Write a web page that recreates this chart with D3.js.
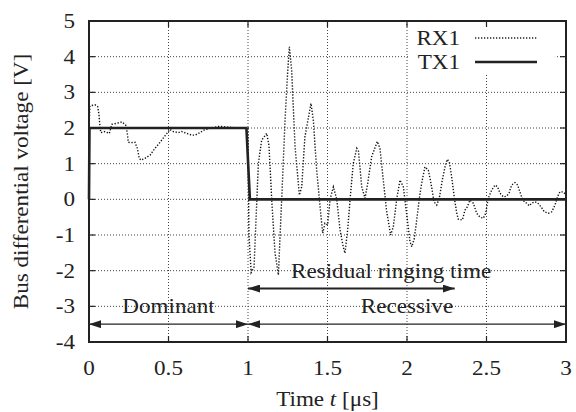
<!DOCTYPE html>
<html>
<head>
<meta charset="utf-8">
<script src="https://cdn.jsdelivr.net/npm/d3@7"></script>
<style>
  body { margin: 0; background: #fff; }
  text { font-family: "Liberation Serif", "Times New Roman", Times, serif; fill: #222; }
</style>
</head>
<body>
<div id="chart"></div>
<script>
// tick values
var timeTicks = [0, 0.5, 1, 1.5, 2, 2.5, 3];
var voltTicks = [-4, -3, -2, -1, 0, 1, 2, 3, 4, 5];

// TX1 (transmitted) waveform
var txTime = [0, 0.003, 0.99, 1.012, 3];
var txVolt = [0, 2, 2, 0, 0];

// RX1 (received) waveform
var rxTime = [0, 0.006, 0.038, 0.055, 0.063, 0.067, 0.074, 0.100, 0.128, 0.143, 0.182, 0.208, 0.231, 0.241,
  0.247, 0.264, 0.289, 0.304, 0.316, 0.327, 0.352, 0.384, 0.415, 0.447, 0.478, 0.499, 0.509, 0.530, 0.562,
  0.583, 0.614, 0.646, 0.667, 0.698, 0.723, 0.761, 0.813, 0.835, 0.970, 1.000,
  1.006, 1.020, 1.038, 1.065, 1.086, 1.118, 1.132, 1.149, 1.170, 1.191, 1.212, 1.233, 1.250, 1.260, 1.275,
  1.296, 1.323, 1.338, 1.358, 1.396, 1.411, 1.432, 1.453, 1.470, 1.484, 1.501, 1.516, 1.537, 1.558, 1.579,
  1.599, 1.610, 1.627, 1.642, 1.662, 1.684, 1.695, 1.715, 1.736, 1.753, 1.778, 1.813, 1.830, 1.853, 1.871,
  1.897, 1.914, 1.935, 1.956, 1.977, 1.992, 2.019, 2.030, 2.046, 2.061, 2.082, 2.096, 2.113, 2.134, 2.151,
  2.170, 2.187, 2.203, 2.222, 2.239, 2.253, 2.266, 2.281, 2.298, 2.313, 2.323, 2.348, 2.365, 2.379, 2.396,
  2.417, 2.438, 2.459, 2.480, 2.495, 2.511, 2.533, 2.553, 2.570, 2.585, 2.606, 2.627, 2.642, 2.658, 2.679,
  2.696, 2.706, 2.721, 2.738, 2.753, 2.769, 2.784, 2.805, 2.822, 2.843, 2.864, 2.889, 2.910, 2.931, 2.948,
  2.962, 2.983, 3.000];
var rxVolt = [2.0, 2.62, 2.65, 2.6, 2.36, 2.13, 1.87, 1.90, 1.85, 2.10, 2.14, 2.17, 2.08, 1.85,
  1.60, 1.59, 1.60, 1.43, 1.15, 1.10, 1.15, 1.24, 1.43, 1.60, 1.78, 1.90, 1.96, 1.90, 1.87,
  1.90, 1.85, 1.80, 1.80, 1.87, 1.94, 1.99, 2.04, 2.04, 1.99, 2.0,
  -1.0, -2.05, -1.9, 1.0, 1.66, 1.85, 1.5, 0, -1.5, -2.12, 0, 2.22, 3.62, 4.28, 3.6,
  1.47, 0.12, 0.35, 1.75, 2.69, 2.22, 0.82, -0.2, -0.95, -0.67, -0.72, 0, 0.35, 0, -0.86,
  -1.33, -1.51, -0.85, 0, 1.0, 1.43, 1.35, 0.35, 0.03, 0.45, 1.2, 1.62, 1.43, 0.45, -0.3,
  -1.0, -0.77, 0, 0.54, 0.35, -0.2, -1.19, -1.33, -1.1, -0.58, 0.17, 0.54, 0.91, 0.82, 0.45,
  -0.07, -0.16, 0.03, 0.54, 0.91, 1.12, 1.05, 0.63, 0.03, -0.39, -0.56, -0.58, -0.3, -0.21, -0.02,
  -0.11, -0.39, -0.5, -0.53, -0.39, 0.03, 0.26, 0.40, 0.35, 0.17, 0.07, 0.09, 0.18, 0.40, 0.47,
  0.40, 0.26, 0.07, -0.07, -0.11, -0.18, -0.11, -0.07, -0.10, -0.21, -0.35, -0.39, -0.35, -0.16, 0.09,
  0.21, 0.21, 0.12];

// annotation spans (time from, time to, level) and their labels
var spanLabels = ["Dominant", "Recessive", "Residual ringing time"];
var spanFrom = [0, 1, 1];
var spanTo = [1, 3, 2.3];
var spanLevel = [-3.5, -3.5, -2.5];
var spanTextTime = [0.5, 2.0, 1.9];
var spanTextLevel = [-3.2, -3.2, -2.2];

var legendNames = ["RX1", "TX1"];

var margin = { top: 21, right: 10, bottom: 70, left: 89 },
    width = 576 - margin.left - margin.right,
    height = 412 - margin.top - margin.bottom;

var svg = d3.select("#chart")
  .append("svg")
  .attr("width", 576)
  .attr("height", 412);

var canvas = svg.append("g")
  .attr("transform", "translate(" + margin.left + "," + margin.top + ")");

var x = d3.scaleLinear().domain([0, 3]).range([0, width]);
var y = d3.scaleLinear().domain([-4, 5]).range([height, 0]);

// text is a little wider than the plain serif face
function label(parent, px, py, str, anchor, rot) {
  return parent.append("text")
    .attr("transform", "translate(" + px + "," + py + ")" + (rot ? " rotate(" + rot + ")" : "") + " scale(1.1,1)")
    .attr("text-anchor", anchor)
    .attr("font-size", "21px")
    .text(str);
}

// grid
canvas.append("g").selectAll("line.gx")
  .data(timeTicks.slice(1, -1))
  .enter().append("line")
  .attr("x1", function(d) { return x(d); })
  .attr("x2", function(d) { return x(d); })
  .attr("y1", 0).attr("y2", height)
  .attr("stroke", "#444").attr("stroke-width", 1)
  .attr("stroke-dasharray", "1,2");

canvas.append("g").selectAll("line.gy")
  .data(voltTicks.slice(1, -1))
  .enter().append("line")
  .attr("x1", 0).attr("x2", width)
  .attr("y1", function(d) { return y(d); })
  .attr("y2", function(d) { return y(d); })
  .attr("stroke", "#444").attr("stroke-width", 1)
  .attr("stroke-dasharray", "1,2");

// legend box blanks the grid behind it
canvas.append("rect")
  .attr("x", x(2) + 2).attr("y", 0)
  .attr("width", x(2.93) - x(2) - 2).attr("height", 52)
  .attr("fill", "#fff");

// inward ticks on all four sides
var tickLen = 6;
timeTicks.forEach(function(t) {
  canvas.append("line").attr("x1", x(t)).attr("x2", x(t)).attr("y1", height).attr("y2", height - tickLen)
    .attr("stroke", "#222").attr("stroke-width", 1.2);
  canvas.append("line").attr("x1", x(t)).attr("x2", x(t)).attr("y1", 0).attr("y2", tickLen)
    .attr("stroke", "#222").attr("stroke-width", 1.2);
  label(canvas, x(t), height + 33, String(t), "middle");
});
voltTicks.forEach(function(v) {
  canvas.append("line").attr("x1", 0).attr("x2", tickLen).attr("y1", y(v)).attr("y2", y(v))
    .attr("stroke", "#222").attr("stroke-width", 1.2);
  canvas.append("line").attr("x1", width).attr("x2", width - tickLen).attr("y1", y(v)).attr("y2", y(v))
    .attr("stroke", "#222").attr("stroke-width", 1.2);
  label(canvas, -14, y(v) + 7, String(v), "end");
});

// RX1 dotted trace
var rxLine = d3.line()
  .x(function(d, i) { return x(rxTime[i]); })
  .y(function(d) { return y(d); });

canvas.append("path")
  .datum(rxVolt)
  .attr("d", rxLine)
  .attr("fill", "none")
  .attr("stroke", "#111")
  .attr("stroke-width", 1.4)
  .attr("stroke-dasharray", "1.3,1.7");

// TX1 solid trace
var txLine = d3.line()
  .x(function(d, i) { return x(txTime[i]); })
  .y(function(d) { return y(d); });

canvas.append("path")
  .datum(txVolt)
  .attr("d", txLine)
  .attr("fill", "none")
  .attr("stroke", "#222")
  .attr("stroke-width", 2.6);

// arrow heads
var defs = svg.append("defs");
defs.append("marker")
  .attr("id", "head")
  .attr("viewBox", "0 0 12 8")
  .attr("refX", 12).attr("refY", 4)
  .attr("markerWidth", 12).attr("markerHeight", 8)
  .attr("markerUnits", "userSpaceOnUse")
  .attr("orient", "auto-start-reverse")
  .append("path")
  .attr("d", "M0,0 L12,4 L0,8 Z")
  .attr("fill", "#222");

spanLabels.forEach(function(name, i) {
  canvas.append("line")
    .attr("x1", x(spanFrom[i])).attr("x2", x(spanTo[i]))
    .attr("y1", y(spanLevel[i])).attr("y2", y(spanLevel[i]))
    .attr("stroke", "#222").attr("stroke-width", i == 2 ? 2.2 : 1.4)
    .attr("marker-start", "url(#head)")
    .attr("marker-end", "url(#head)");
  label(canvas, x(spanTextTime[i]), y(spanTextLevel[i]), name, "middle");
});

// frame
canvas.append("rect")
  .attr("x", 0).attr("y", 0)
  .attr("width", width).attr("height", height)
  .attr("fill", "none")
  .attr("stroke", "#222")
  .attr("stroke-width", 2);

// legend
var legend = canvas.append("g");
legendNames.forEach(function(name, i) {
  var ly = 17 + i * 24;
  label(legend, 371, ly + 7, name, "end");
  legend.append("line")
    .attr("x1", 386).attr("x2", 448)
    .attr("y1", ly).attr("y2", ly)
    .attr("stroke", "#222")
    .attr("stroke-width", i == 0 ? 1.4 : 2.6)
    .attr("stroke-dasharray", i == 0 ? "1.3,1.7" : null);
});

// axis titles
var xTitle = label(svg, margin.left + width / 2, 406, "", "middle");
xTitle.append("tspan").text("Time ");
xTitle.append("tspan").attr("font-style", "italic").text("t");
xTitle.append("tspan").text(" [\u03bcs]");

label(svg, 28, margin.top + height / 2, "Bus differential voltage [V]", "middle", -90);
</script>
</body>
</html>
